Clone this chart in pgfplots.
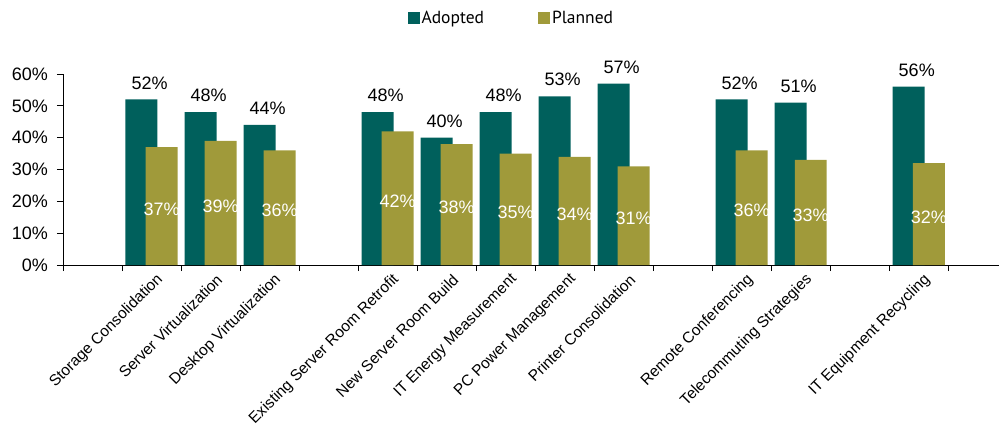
\documentclass[border=0pt]{standalone}
\usepackage{fontspec}
\setmainfont{Liberation Sans}
\newfontfamily\legfont{PT Sans}
\usepackage{pgfplots}
\usepackage{pgfplotstable}
\pgfplotsset{compat=1.18}

\definecolor{adopted}{HTML}{00605C}
\definecolor{planned}{HTML}{A09A3A}

% slot positions: empty slots at 0, 4, 10, 13
\pgfplotstableread{
x  adopted planned
1  52 37
2  48 39
3  44 36
5  48 42
6  40 38
7  48 35
8  53 34
9  57 31
11 52 36
12 51 33
14 56 32
}\survey

\begin{document}
\begin{tikzpicture}
\begin{axis}[
  at={(0,0)}, anchor=south west,
  scale only axis, width=936bp, height=191bp,
  xmin=-0.5, xmax=15.36, ymin=0, ymax=60,
  axis x line=bottom, axis y line=left,
  axis line style={-, black, line width=0.8bp},
  tick align=outside, major tick length=6bp,
  tick style={black, line width=0.8bp},
  /pgf/number format/assume math mode=true,
  ytick={0,10,...,60},
  yticklabel={\pgfmathprintnumber{\tick}\%},
  yticklabel style={font=\fontsize{18bp}{20bp}\selectfont, inner sep=0pt, anchor=east, xshift=-9bp},
  xtick={-0.5,0.5,...,14.5},
  x tick label as interval,
  xticklabels={{},Storage Consolidation,Server Virtualization,Desktop Virtualization,{},
    Existing Server Room Retrofit,New Server Room Build,IT Energy Measurement,
    PC Power Management,Printer Consolidation,{},Remote Conferencing,
    Telecommuting Strategies,{},IT Equipment Recycling},
  xticklabel style={font=\fontsize{15.5bp}{17bp}\selectfont, inner sep=0pt,
    anchor=east, xshift=9bp, yshift=-6bp, rotate=45},
  legend columns=2,
  legend style={draw=none, fill=none, at={(0.479,1.293)}, anchor=center,
    font=\legfont\fontsize{17.5bp}{19bp}\selectfont,
    /tikz/every even column/.append style={column sep=52bp}},
]
\addplot[ybar, bar width=0.542, bar shift=-0.17, fill=adopted, draw=none,
  legend image code/.code={\fill[adopted] (0bp,-6bp) rectangle (12bp,6bp);},
  nodes near coords={\pgfmathprintnumber{\pgfplotspointmeta}\%},
  every node near coord/.append style={font=\fontsize{18bp}{20bp}\selectfont,
    inner sep=0pt, anchor=south, xshift=-2bp, yshift=10bp, text=black}]
  table[x=x, y=adopted]{\survey};
\addplot[ybar, bar width=0.542, bar shift=0.17, fill=planned, draw=none,
  legend image code/.code={\fill[planned] (0bp,-6bp) rectangle (12bp,6bp);}]
  table[x=x, y=planned]{\survey};
\addplot[forget plot, draw=none, mark=none, point meta=explicit,
  nodes near coords={\pgfmathprintnumber{\pgfplotspointmeta}\%},
  nodes near coords align=center,
  every node near coord/.append style={font=\fontsize{18bp}{20bp}\selectfont,
    inner sep=0pt, anchor=center, yshift=-3bp, text=white}]
  table[x expr=\thisrow{x}+0.17, y expr=\thisrow{planned}/2, meta=planned]{\survey};
\legend{Adopted, Planned}
\end{axis}
\pgfresetboundingbox
\path[use as bounding box] (-63bp,-165bp) rectangle (936bp,265bp);
\end{tikzpicture}
\end{document}
